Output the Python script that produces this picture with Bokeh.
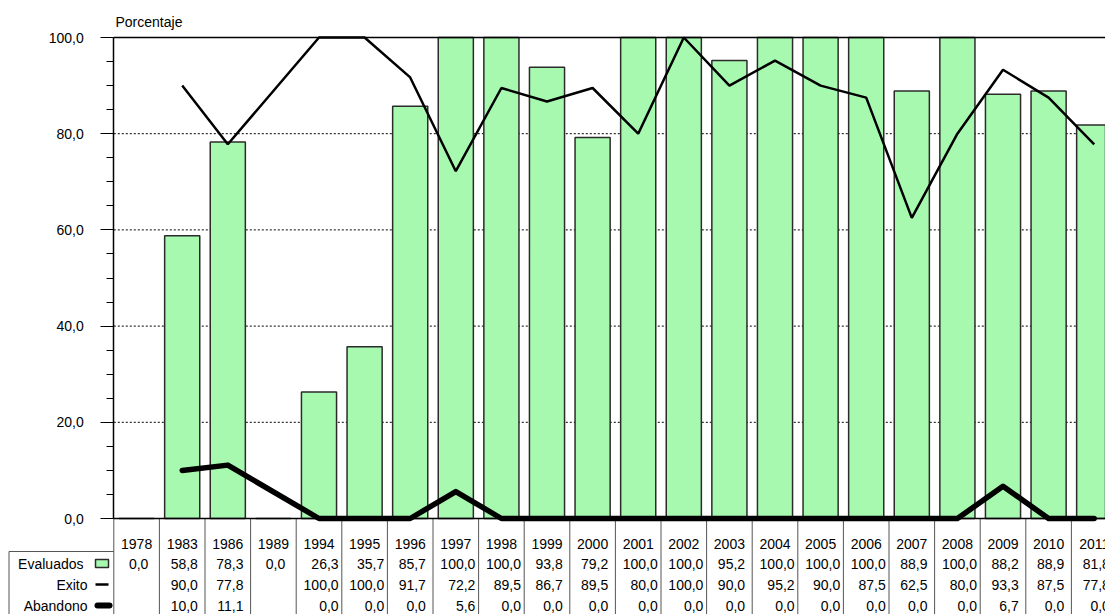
from bokeh.plotting import figure
from bokeh.models import Range1d, FixedTicker
from bokeh.embed import file_html
from bokeh.resources import INLINE
from bokeh.core.properties import value

# ---------------- data ----------------
years = ["1978", "1983", "1986", "1989", "1994", "1995", "1996", "1997", "1998", "1999",
         "2000", "2001", "2002", "2003", "2004", "2005", "2006", "2007", "2008", "2009",
         "2010", "2011"]
evaluados = [0.0, 58.8, 78.3, 0.0, 26.3, 35.7, 85.7, 100.0, 100.0, 93.8, 79.2, 100.0,
             100.0, 95.2, 100.0, 100.0, 100.0, 88.9, 100.0, 88.2, 88.9, 81.8]
exito = [None, 90.0, 77.8, None, 100.0, 100.0, 91.7, 72.2, 89.5, 86.7, 89.5, 80.0,
         100.0, 90.0, 95.2, 90.0, 87.5, 62.5, 80.0, 93.3, 87.5, 77.8]
abandono = [None, 10.0, 11.1, None, 0.0, 0.0, 0.0, 5.6, 0.0, 0.0, 0.0, 0.0, 0.0, 0.0,
            0.0, 0.0, 0.0, 0.0, 0.0, 6.7, 0.0, 0.0]
y_ticks = [0, 20, 40, 60, 80, 100]
y_tick_labels = ["0,0", "20,0", "40,0", "60,0", "80,0", "100,0"]
row_names = ["Evaluados", "Exito", "Abandono"]
y_label = "Porcentaje"

# ---------------- layout constants (pixels) ----------------
W, H = 1105, 614
AXIS_X = 113.3        # pixel x of the value axis
CAT_W = 45.6          # pixel width of one category
ZERO_Y = 518.0        # pixel y of value 0
PX_PER_UNIT = 4.81    # pixels per percentage point
FONT = "Liberation Sans"
FS = "14px"
GREEN = "#A7F9B0"
BAR_LINE = "#2b2b2b"
TABLE_GRAY = "#555555"

def px(img_x):
    return (img_x - AXIS_X) / CAT_W

def py(img_y):
    return (ZERO_Y - img_y) / PX_PER_UNIT

def fmt(v):
    return "" if v is None else ("%.1f" % v).replace(".", ",")

n = len(years)
xs = [i + 0.5 for i in range(n)]
bounds_x = list(range(n + 1))

p = figure(width=W, height=H, x_range=Range1d(px(0), px(W)), y_range=Range1d(py(H), py(0)),
           x_axis_location=None, output_backend="svg", toolbar_location=None,
           min_border_left=0, min_border_right=0, min_border_top=0, min_border_bottom=0)
p.outline_line_color = None
p.grid.visible = False

# value axis at category 0
ya = p.yaxis[0]
ya.fixed_location = 0
ya.ticker = FixedTicker(ticks=y_ticks, minor_ticks=list(range(0, 101, 5)))
ya.major_label_overrides = {t: l for t, l in zip(y_ticks, y_tick_labels)}
ya.bounds = (0, 100)
ya.axis_line_color = "black"
ya.axis_line_width = 1.5
ya.major_tick_out = 13
ya.major_tick_in = 0
ya.minor_tick_out = 7
ya.minor_tick_in = 0
ya.major_tick_line_color = "black"
ya.minor_tick_line_color = "black"
ya.major_label_standoff = 17
ya.major_label_text_font = FONT
ya.major_label_text_font_size = FS
ya.major_label_text_color = "black"

# dotted gridlines at inner ticks
inner = [t for t in y_ticks if 0 < t < 100]
p.segment(x0=[0] * len(inner), y0=inner, x1=[n] * len(inner), y1=inner,
          line_color="black", line_width=1, line_dash="2 2")

# table / category separators below the axis
p.segment(x0=bounds_x, y0=[0] * (n + 1), x1=bounds_x, y1=[py(H)] * (n + 1),
          line_color=TABLE_GRAY, line_width=1)

# bars
p.vbar(x=xs, top=evaluados, bottom=0, width=0.77, fill_color=GREEN,
       line_color=BAR_LINE, line_width=1.5)

# top border line and base axis line
p.segment(x0=[0, 0], y0=[100, 0], x1=[n, n], y1=[100, 0], line_color="black", line_width=1.5)

# lines (missing points are skipped and neighbours joined)
ex_x = [x for x, v in zip(xs, exito) if v is not None]
ex_y = [v for v in exito if v is not None]
p.line(ex_x, ex_y, line_color="black", line_width=2.5)
ab_x = [x for x, v in zip(xs, abandono) if v is not None]
ab_y = [v for v in abandono if v is not None]
p.line(ab_x, ab_y, line_color="black", line_width=5.5, line_cap="round", line_join="round")

# axis title
p.text(x=[px(115)], y=[py(21)], text=[y_label], text_align="left", text_baseline="middle",
       text_font=value(FONT), text_font_size=FS, text_color="black")

# ---------------- data table ----------------
HDR_Y = py(543)
BOX_Y = py(551)
ROW_Y = [py(563), py(584), py(605)]

p.segment(x0=[px(8.5), px(8.5)], y0=[BOX_Y, BOX_Y], x1=[0, px(8.5)], y1=[BOX_Y, py(H)],
          line_color=TABLE_GRAY, line_width=1)

p.text(x=xs, y=[HDR_Y] * n, text=years, text_align="center", text_baseline="middle",
       text_font=value(FONT), text_font_size=FS, text_color="black")

def text_w(s):
    return sum(7.8 if c.isdigit() else 8.0 for c in s)

series = [evaluados, exito, abandono]
vx, vy, vt = [], [], []
for i in range(n):
    labels = [fmt(s[i]) for s in series]
    maxw = max(text_w(l) for l in labels if l)
    right = xs[i] + (maxw / 2) / CAT_W
    for r, l in enumerate(labels):
        if l:
            vx.append(right)
            vy.append(ROW_Y[r])
            vt.append(l)
p.text(x=vx, y=vy, text=vt, text_align="right", text_baseline="middle",
       text_font=value(FONT), text_font_size=FS, text_color="black")

# row labels with legend keys
p.text(x=[px(83), px(87), px(87)], y=ROW_Y, text=row_names, text_align="right",
       text_baseline="middle", text_font=value(FONT), text_font_size=FS, text_color="black")
p.rect(x=[px(101.5)], y=[ROW_Y[0]], width=13, height=8, width_units="screen",
       height_units="screen", fill_color=GREEN, line_color=BAR_LINE, line_width=1.5)
p.segment(x0=[px(95)], y0=[ROW_Y[1]], x1=[px(108)], y1=[ROW_Y[1]],
          line_color="black", line_width=2.5)
p.segment(x0=[px(97)], y0=[ROW_Y[2]], x1=[px(109)], y1=[ROW_Y[2]],
          line_color="black", line_width=6, line_cap="round")

open("out.html", "w").write(file_html(p, INLINE))
